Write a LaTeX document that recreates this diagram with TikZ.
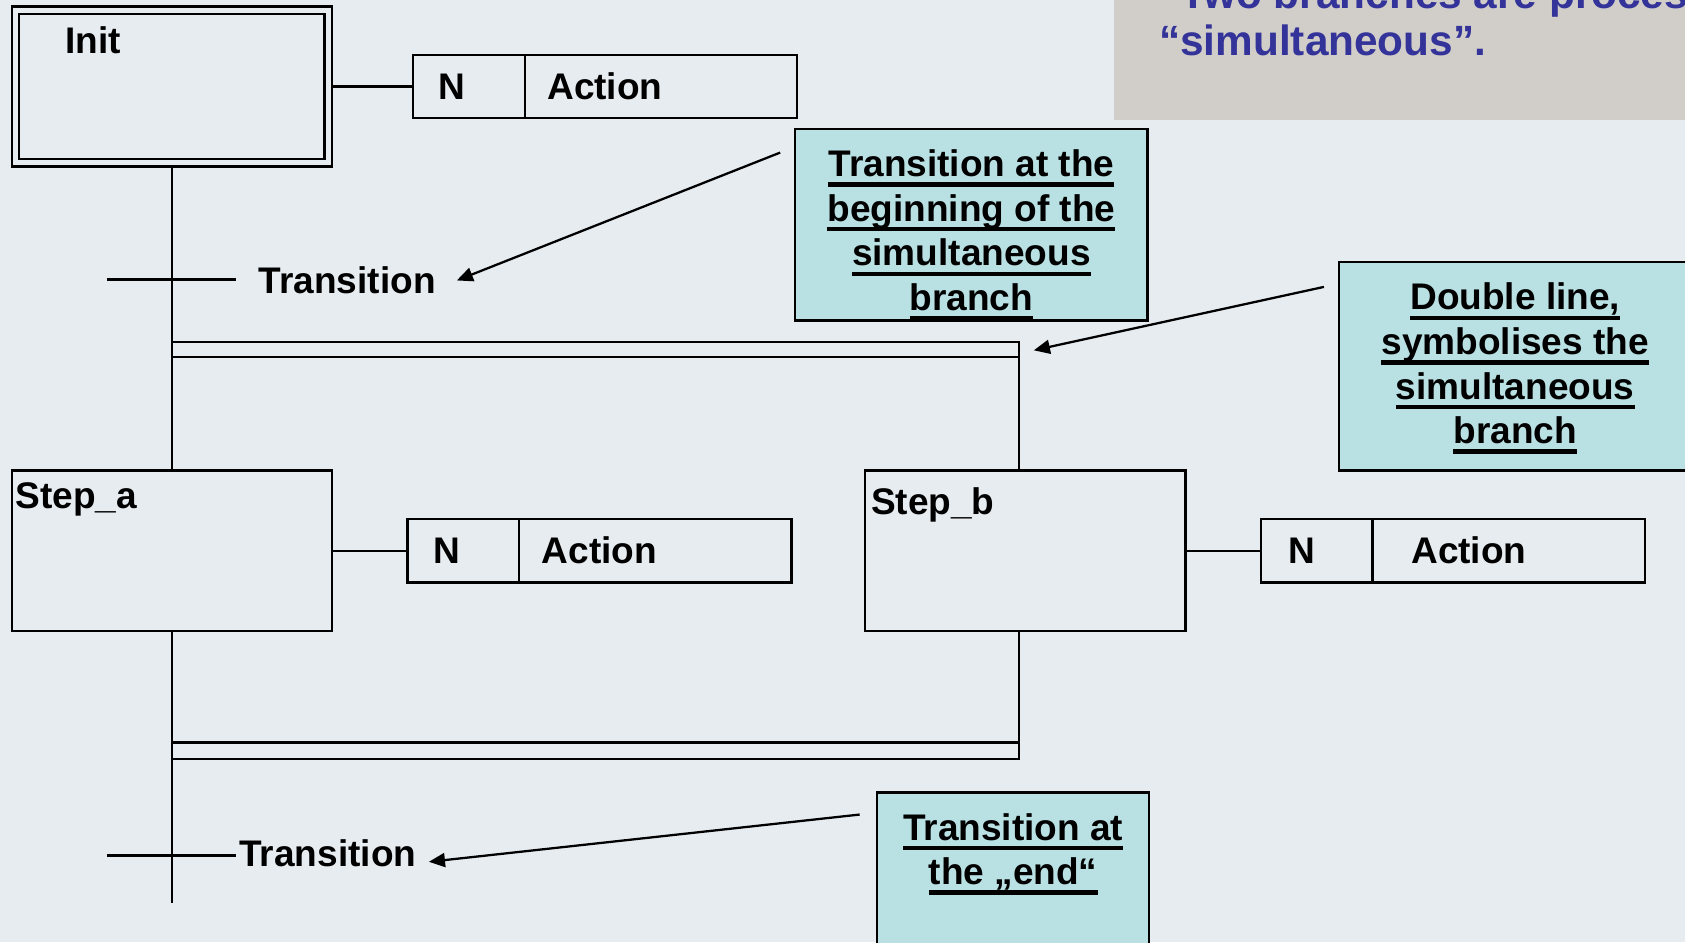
\documentclass[tikz,border=0pt]{standalone}
\usepackage{fontspec}
\setmainfont{Liberation Sans}
\usepackage{xcolor}
\usetikzlibrary{positioning, arrows.meta}

\definecolor{slidebg}{HTML}{E7ECF0}
\definecolor{notefill}{HTML}{B9E0E3}
\definecolor{panelgray}{HTML}{D1CEC9}
\definecolor{titleblue}{HTML}{333399}

% underlined line of a note, rule at a fixed depth
\newcommand{\noteline}[1]{\setbox0=\hbox{#1}\leavevmode\rlap{\rule[-2.7pt]{\wd0}{1.2pt}}\box0}

\tikzset{
    sfcfont/.style={font=\fontsize{9.8}{11.8}\selectfont\bfseries},
    stepbox/.style={rectangle, draw=black, line width=0.6pt, minimum width=2.98cm, minimum height=1.49cm, inner sep=0pt},
    initstep/.style={stepbox, path picture={\draw[line width=0.6pt] ([shift={(0.07cm,0.07cm)}]path picture bounding box.south west) rectangle ([shift={(-0.07cm,-0.07cm)}]path picture bounding box.north east);}},
    steptext/.style={sfcfont, inner sep=0pt, anchor=base west},
    actn/.style={rectangle, draw=black, line width=0.6pt, sfcfont, minimum height=0.59cm, inner ysep=0pt, inner xsep=0.24cm, text width=0.56cm, align=left},
    actbody/.style={actn, inner xsep=0.21cm, text width=2.11cm},
    note/.style={rectangle, draw=black, line width=0.7pt, fill=notefill, inner sep=0pt},
    notetext/.style={sfcfont, align=center, anchor=north, inner sep=0pt, yshift=-0.2cm},
    heading/.style={font=\fontsize{11.2}{12.5}\selectfont\bfseries, text=titleblue, align=left, inner sep=0pt},
    link/.style={line width=0.6pt},
    pointer/.style={-{Triangle[length=0.15cm, width=0.13cm]}, line width=0.6pt}
}

\begin{document}
\begin{tikzpicture}[x=0.01cm, y=-0.01cm]
    \useasboundingbox (0,0) rectangle (1568,877);
    \clip (0,0) rectangle (1568,877);
    \fill[slidebg] (0,0) rectangle (1568,877);

    % Heading panel, runs off the top edge
    \fill[panelgray] (1037,-40) rectangle (1620,112);
    \node[heading, anchor=south west] (head) at (1078,53) {\hspace*{0.2cm}Two branches are processed\\“simultaneous”.};

    % Initial step
    \node[initstep] (init) at (160,80.5) {};
    \node[steptext] (initLbl) at ([shift={(0.5cm,-0.445cm)}]init.north west) {Init};
    \node[actn, right=0.73cm of init] (initN) {N};
    \node[actbody, right=-0.6pt of initN] (initAct) {Action};
    \draw[link] (init) -- (initN);

    % Transition before the branch
    \coordinate (tickBeg) at (160,260);
    \draw[link] ([xshift=-0.6cm]tickBeg) -- ([xshift=0.6cm]tickBeg);
    \node[steptext, anchor=west] (trBeg) at (240,261) {Transition};

    % Steps of the two branches
    \node[stepbox] (stepA) at (160,512.5) {};
    \node[steptext] (stepALbl) at ([shift={(0.04cm,-0.365cm)}]stepA.north west) {Step\_a};
    \node[actn, right=0.68cm of stepA] (stepAN) {N};
    \node[actbody, right=-0.6pt of stepAN] (stepAAct) {Action};
    \draw[link] (stepA) -- (stepAN);

    \node[stepbox] (stepB) at (954,512.5) {};
    \node[steptext] (stepBLbl) at ([shift={(0.06cm,-0.415cm)}]stepB.north west) {Step\_b};
    \node[actn, inner xsep=0.26cm, text width=0.52cm, right=0.68cm of stepB] (stepBN) {N};
    \node[actbody, inner xsep=0.36cm, text width=1.81cm, right=-0.6pt of stepBN] (stepBAct) {Action};
    \draw[link] (stepB) -- (stepBN);

    % Opening double line
    \coordinate (splitL) at (160,318);
    \coordinate (splitR) at (948,318);
    \draw[link] (init) -- (stepA);
    \draw[link] (splitL) -- (splitR) -- (splitR |- stepB.north);
    \draw[link] ([yshift=-0.14cm]splitL) -- ([yshift=-0.14cm]splitR);

    % Closing double line
    \coordinate (joinL) at (160,691);
    \coordinate (joinR) at (948,691);
    \draw[link] (joinL) -- (joinR);
    \draw[link] (stepB.south -| joinR) -- ([yshift=-0.15cm]joinR) -- ([yshift=-0.15cm]joinL);

    % Transition after the branch
    \coordinate (tickEnd) at (160,796);
    \draw[link] (stepA.south) -- ([yshift=-0.44cm]tickEnd);
    \draw[link] ([xshift=-0.6cm]tickEnd) -- ([xshift=0.6cm]tickEnd);
    \node[steptext, anchor=west] (trEnd) at (222,794) {Transition};

    % Notes
    \node[note, minimum width=3.28cm, minimum height=1.78cm,
        label={[notetext]north:\noteline{Transition at the}\\\noteline{beginning of the}\\\noteline{simultaneous}\\\noteline{branch}}] (noteBeg) at (904,209) {};
    \node[note, minimum width=3.28cm, minimum height=1.94cm,
        label={[notetext]north:\noteline{Double line,}\\\noteline{symbolises the}\\\noteline{simultaneous}\\\noteline{branch}}] (noteDbl) at (1410,341) {};
    \node[note, minimum width=2.53cm, minimum height=2.2cm, anchor=north west,
        label={[notetext]north:\noteline{Transition at}\\\noteline{the „end“}}] (noteEnd) at (815,736) {};

    % Pointers from the notes
    \coordinate (fromBeg) at (726,142);
    \draw[pointer] (fromBeg) -- ([xshift=0.19cm]trBeg.east);
    \coordinate (fromDbl) at (1232,267);
    \draw[pointer] (fromDbl) -- ([shift={(0.14cm,-0.08cm)}]splitR);
    \coordinate (fromEnd) at (800,758);
    \draw[pointer] (fromEnd) -- ([shift={(0.11cm,-0.08cm)}]trEnd.east);
\end{tikzpicture}
\end{document}
